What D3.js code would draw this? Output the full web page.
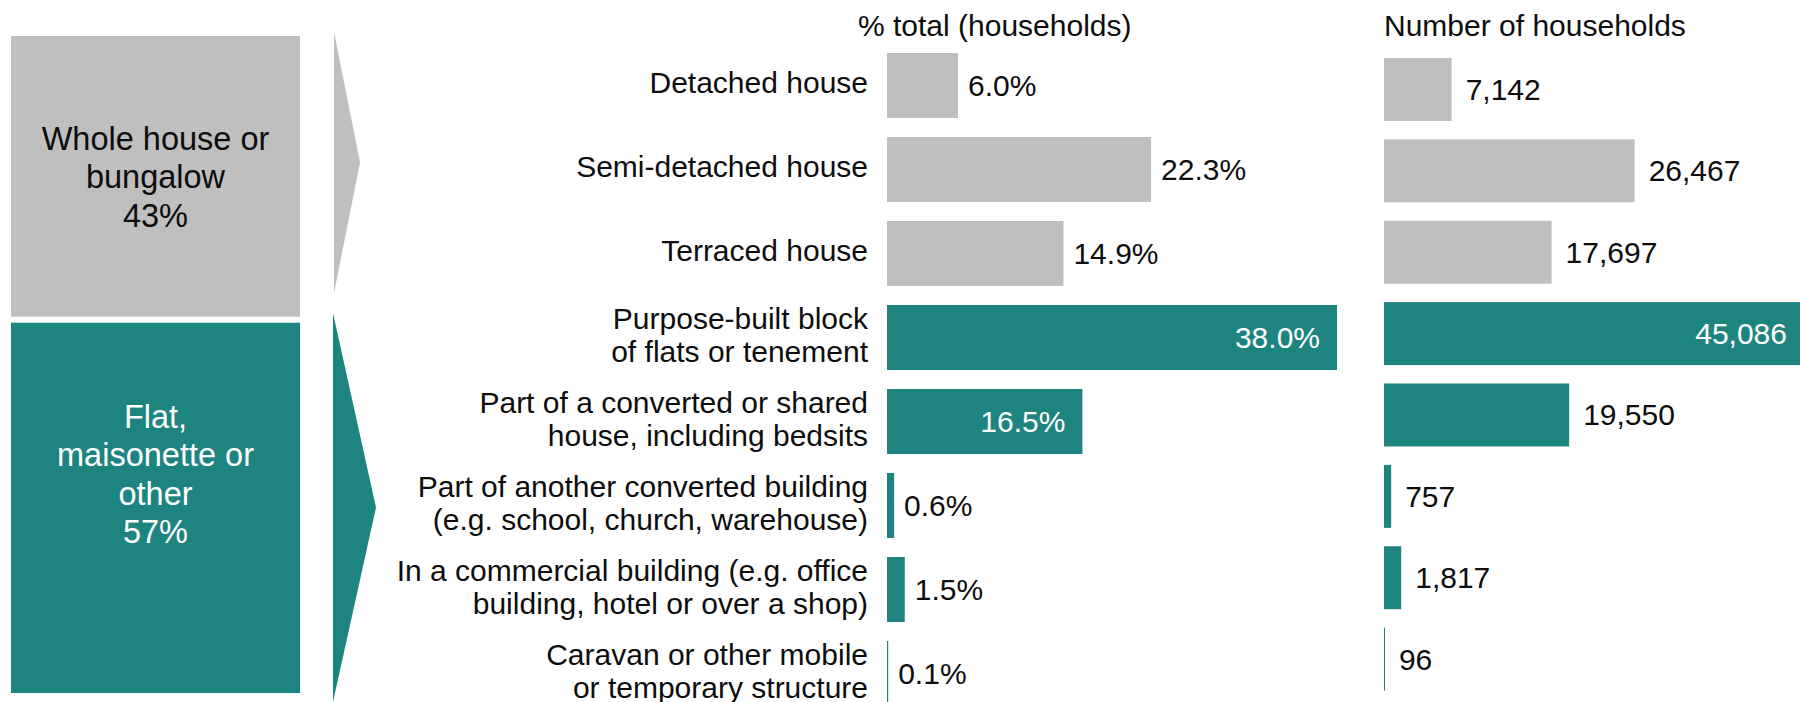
<!DOCTYPE html>
<html>
<head>
<meta charset="utf-8">
<script src="https://cdn.jsdelivr.net/npm/d3@7"></script>
<style>
  html, body { margin: 0; padding: 0; background: #fff; overflow: hidden; }
  svg { display: block; font-family: "Liberation Sans", Arial, sans-serif; }
</style>
</head>
<body>
<svg id="chart" width="1800" height="702"></svg>
<script>
// Household accommodation type: share of households and household counts
const categories = [
  "Detached house",
  "Semi-detached house",
  "Terraced house",
  "Purpose-built block\nof flats or tenement",
  "Part of a converted or shared\nhouse, including bedsits",
  "Part of another converted building\n(e.g. school, church, warehouse)",
  "In a commercial building (e.g. office\nbuilding, hotel or over a shop)",
  "Caravan or other mobile\nor temporary structure"
];
const categoryGroup = ["house", "house", "house", "flat", "flat", "flat", "flat", "flat"];
const pctValues = [6.0, 22.3, 14.9, 38.0, 16.5, 0.6, 1.5, 0.1];
const householdValues = [7142, 26467, 17697, 45086, 19550, 757, 1817, 96];

const groupKeys = ["house", "flat"];
const groupNames = ["Whole house or\nbungalow", "Flat,\nmaisonette or\nother"];
const chartTitles = ["% total (households)", "Number of households"];

// ---- styling / layout ----
const W = 1800, H = 702;
const GREY = "#bfbfbf", TEAL = "#1d847f", INK = "#0d0d0d";
const colour = g => (g === "house" ? GREY : TEAL);
const FS = 30;          // chart text size
const BOX_FS = 32.5;    // summary box text size

const svg = d3.select("#chart").attr("viewBox", `0 0 ${W} ${H}`);
const idx = d3.range(categories.length);

// ---- summary boxes on the left (heights proportional to group share) ----
const groupTotals = groupKeys.map(k => d3.sum(idx.filter(i => categoryGroup[i] === k), i => pctValues[i]));
const grandTotal = d3.sum(groupTotals);
const boxGap = 6;
const boxY = d3.scaleLinear().domain([0, grandTotal]).range([36, 693 + boxGap]);
const boxX0 = 11, boxX1 = 300;
const cum = d3.cumsum([0].concat(groupTotals));
const textShift = [0, -34];
const boxLineH = 38.5;

const boxes = svg.append("g").attr("class", "group-boxes");
groupKeys.forEach((k, gi) => {
  const y0 = boxY(cum[gi]);
  const h = boxY(cum[gi + 1]) - y0 - boxGap;
  boxes.append("rect")
    .attr("x", boxX0).attr("y", y0)
    .attr("width", boxX1 - boxX0).attr("height", h)
    .attr("fill", colour(k));
  const lines = groupNames[gi].split("\n").concat([d3.format(".0f")(groupTotals[gi]) + "%"]);
  const cy = y0 + h / 2 + textShift[gi];
  const first = cy + BOX_FS * 0.36 - (lines.length - 1) * boxLineH / 2;
  const t = boxes.append("text")
    .attr("text-anchor", "middle")
    .attr("font-size", BOX_FS)
    .attr("fill", k === "house" ? INK : "#fff");
  lines.forEach((ln, li) => {
    t.append("tspan").attr("x", (boxX0 + boxX1) / 2).attr("y", first + li * boxLineH).text(ln);
  });
});

// chevrons pointing from each box to its rows
const chevrons = [
  { key: "house", left: 334, tip: 360, top: 32, bottom: 293 },
  { key: "flat",  left: 333, tip: 376, top: 313, bottom: 702 }
];
svg.append("g").attr("class", "chevrons").selectAll("path")
  .data(chevrons).join("path")
  .attr("d", c => d3.line()([[c.left, c.top], [c.tip, (c.top + c.bottom) / 2], [c.left, c.bottom]]) + "Z")
  .attr("fill", c => colour(c.key));

// ---- percentage chart ----
const xPct = d3.scaleLinear().domain([0, d3.max(pctValues)]).range([887, 1337]);
const yPct = d3.scaleBand().domain(idx).range([43.5, 715.5]).paddingInner(0.226).paddingOuter(0.113);

const pctG = svg.append("g").attr("class", "pct-chart");
pctG.selectAll("rect").data(idx).join("rect")
  .attr("x", xPct(0))
  .attr("y", i => yPct(i))
  .attr("width", i => Math.max(1, xPct(pctValues[i]) - xPct(0)))
  .attr("height", yPct.bandwidth())
  .attr("fill", i => colour(categoryGroup[i]));

const pctInside = i => categoryGroup[i] === "flat" && pctValues[i] > 10;
pctG.selectAll("text.val").data(idx).join("text")
  .attr("class", "val")
  .attr("font-size", FS)
  .attr("x", i => pctInside(i) ? xPct(pctValues[i]) - 17 : xPct(pctValues[i]) + 10)
  .attr("y", i => yPct(i) + yPct.bandwidth() / 2 + 10.5)
  .attr("text-anchor", i => pctInside(i) ? "end" : "start")
  .attr("fill", i => pctInside(i) ? "#fff" : INK)
  .text(i => d3.format(".1f")(pctValues[i]) + "%");

// category labels
const catLineH = 33;
const catG = svg.append("g").attr("class", "categories");
idx.forEach(i => {
  const lines = categories[i].split("\n");
  const cy = yPct(i) + yPct.bandwidth() / 2;
  const first = cy + 7.5 - (lines.length - 1) * catLineH / 2;
  const t = catG.append("text").attr("text-anchor", "end").attr("font-size", FS).attr("fill", INK);
  lines.forEach((ln, li) => t.append("tspan").attr("x", 868).attr("y", first + li * catLineH).text(ln));
});

svg.append("text")
  .attr("x", 858).attr("y", 36)
  .attr("font-size", FS).attr("fill", INK)
  .text(chartTitles[0]);

// ---- household count chart ----
const xNum = d3.scaleLinear().domain([0, d3.max(householdValues)]).range([1384, 1811]);
const yNum = d3.scaleBand().domain(idx).range([48.8, 699.8]).paddingInner(0.226).paddingOuter(0.113);

const numG = svg.append("g").attr("class", "num-chart");
numG.selectAll("rect").data(idx).join("rect")
  .attr("x", xNum(0))
  .attr("y", i => yNum(i))
  .attr("width", i => Math.max(1, xNum(householdValues[i]) - xNum(0)))
  .attr("height", yNum.bandwidth())
  .attr("fill", i => colour(categoryGroup[i]));

const numInside = i => householdValues[i] > 40000;
numG.selectAll("text.val").data(idx).join("text")
  .attr("class", "val")
  .attr("font-size", FS)
  .attr("x", i => numInside(i) ? xNum(householdValues[i]) - 24 : xNum(householdValues[i]) + 14)
  .attr("y", i => yNum(i) + yNum.bandwidth() / 2 + 10.5)
  .attr("text-anchor", i => numInside(i) ? "end" : "start")
  .attr("fill", i => numInside(i) ? "#fff" : INK)
  .text(i => d3.format(",")(householdValues[i]));

svg.append("text")
  .attr("x", 1384).attr("y", 36)
  .attr("font-size", FS).attr("fill", INK)
  .text(chartTitles[1]);
</script>
</body>
</html>
